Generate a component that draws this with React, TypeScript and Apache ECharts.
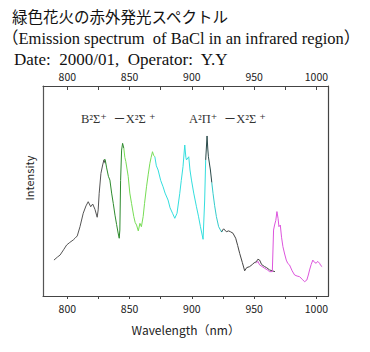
import React, { useEffect, useRef } from "react";
import * as echarts from "echarts";

const tickValues = [800, 825, 850, 875, 900, 925, 950, 975, 1000];
const labelValues = [800, 850, 900, 950, 1000];

const blackStart: number[][] = [
  [789.3, 17.1], [792, 18.5], [794.2, 19.5], [797, 22], [799.5, 24.3], [802, 25.5],
  [804.8, 26.7], [806.2, 27.5], [808, 28.6], [810.2, 33], [812.8, 39.4], [815, 42.9],
  [816.8, 44.9], [818.8, 42.5], [820.4, 43.8], [822.2, 41.3], [824, 37.5], [824.8, 41],
  [825.6, 48.9], [827, 58.4], [828.4, 62.4], [829.4, 64.8], [830.4, 63.2],
];
const darkGreen: number[][] = [
  [829.4, 64.8], [830.4, 65], [831.6, 61], [833, 57], [834.2, 55.2], [835.6, 49],
  [836.9, 44.1], [838.3, 38.5], [839.6, 34], [840.8, 30], [841.7, 27.5], [842.2, 31.4],
  [842.8, 55], [843.6, 69.5], [844.4, 72.7], [845.4, 70.3],
];
const lightGreen: number[][] = [
  [845.4, 70.3], [846.2, 66], [847, 64], [848.9, 57], [850.2, 49], [851.6, 44],
  [853.4, 37.8], [854.5, 35], [855.6, 33.8], [857, 31], [858.3, 34.6], [859.5, 33],
  [860.9, 37.8], [862, 44], [863.6, 52], [865, 58], [866.3, 63.2], [867.3, 66],
  [868.4, 68.7], [869.3, 67], [870.3, 66.3],
];
const cyanMain: number[][] = [
  [870.3, 66.3], [871.5, 62], [872.9, 60], [875, 55], [876.9, 52], [878.5, 49],
  [880.9, 45.7], [882.5, 42], [884.5, 39.4], [886.3, 37], [888.1, 39.4], [890.3, 48.9],
  [891.5, 55], [892.9, 61.6], [894.3, 71.9], [895.2, 66], [895.7, 64.8], [897.5, 66.3],
  [898.5, 60], [899.7, 55.2], [901.5, 49], [903.7, 42.5], [905.3, 38], [906.9, 33],
  [909, 27], [910.3, 45.7], [911.1, 64.8],
];
const blackPeak: number[][] = [
  [911.1, 64.8], [912.2, 76.2], [912.8, 70], [913.3, 66.3], [914.9, 60], [916, 54],
];
const cyanTail: number[][] = [
  [916, 54], [917, 48.9], [918.3, 43], [919.7, 37.8], [921.5, 33], [923.7, 30.6], [925, 31],
];
const blackTail: number[][] = [
  [923.7, 30.6], [925.5, 32], [927.7, 30.6], [929.5, 31], [931, 30.6], [933, 29.9],
  [935.2, 27.5], [936.8, 24], [938.4, 20.3], [940.5, 16], [942.4, 12], [944, 13.5],
  [946.4, 14], [948.5, 15], [950, 15.8], [951.7, 16.3], [953, 17.5], [954.4, 17.1],
  [956, 15], [958.4, 14], [960, 13.5], [962.4, 12.4], [964.5, 12], [966.7, 11.6],
];
const magenta: number[][] = [
  [951.7, 15.6], [953, 16.5], [954.4, 14.8], [956.5, 14], [958.4, 13.2], [960.5, 12.5],
  [962.4, 11.6], [964.6, 11.6], [965.6, 31.4], [966.4, 33.8], [967.4, 36], [968.3, 40.2],
  [969.2, 37], [969.9, 33], [971, 33.8], [972, 28], [973.1, 23.5], [974.5, 20],
  [975.8, 17.1], [977, 15.5], [978.4, 14.8], [980.5, 12], [982.5, 10], [984.5, 9.5],
  [986.5, 9.2], [988.5, 8], [990.5, 6.8], [992.3, 7.6], [993.5, 10], [994.5, 12.4],
  [995.8, 15], [997.1, 17.1], [998.5, 16], [999.8, 15.6], [1001, 16.5], [1002.5, 15.6],
  [1003.5, 14.5], [1004.6, 14],
];

const segments: { data: number[][]; color: string }[] = [
  { data: blackStart, color: "#555555" },
  { data: darkGreen, color: "#2e8b2e" },
  { data: lightGreen, color: "#77dd55" },
  { data: cyanMain, color: "#33dede" },
  { data: blackPeak, color: "#2a4a4a" },
  { data: cyanTail, color: "#33cccc" },
  { data: blackTail, color: "#444444" },
  { data: magenta, color: "#dd55dd" },
];

const titleLine1 = "緑色花火の赤外発光スペクトル";
const titleLine2 = "（Emission spectrum  of BaCl in an infrared region）";
const titleLine3 = "Date:  2000/01,  Operator:  Y.Y";
const bandB = "B²Σ⁺  －X²Σ ⁺";
const bandA = "A²Π⁺  －X²Σ ⁺";

const sans = "'Noto Sans CJK JP', 'Noto Sans', sans-serif";
const serif = "'Liberation Serif', 'DejaVu Serif', 'Noto Sans CJK JP', serif";

export default function App() {
  const ref = useRef<HTMLDivElement>(null);
  useEffect(() => {
    if (!ref.current) return;
    const chart = echarts.init(ref.current, undefined, { renderer: "svg" });
    const axisCommon = {
      type: "value" as const,
      min: 780.5,
      max: 1009.7,
      splitLine: { show: false },
      axisLine: { show: true, onZero: false, lineStyle: { color: "#444", width: 1 } },
    };
    const fmt = (v: number) => String(v);
    chart.setOption({
      animation: false,
      backgroundColor: "#ffffff",
      grid: { left: 43, right: 41.5, top: 86, bottom: 56 },
      xAxis: [
        {
          ...axisCommon,
          position: "bottom",
          name: "Wavelength（nm）",
          nameLocation: "middle",
          nameGap: 27,
          nameTextStyle: { fontFamily: sans, fontSize: 12, color: "#222" },
          axisTick: { show: true, inside: false, length: 3, customValues: tickValues, lineStyle: { color: "#444" } },
          axisLabel: { customValues: labelValues, formatter: fmt, fontFamily: sans, fontSize: 10.5, color: "#222", margin: 7 },
        },
        {
          ...axisCommon,
          position: "top",
          axisTick: { show: true, inside: true, length: 4, customValues: tickValues, lineStyle: { color: "#444" } },
          axisLabel: { customValues: labelValues, formatter: fmt, fontFamily: sans, fontSize: 10.5, color: "#222", margin: 4 },
        },
      ],
      yAxis: [
        {
          type: "value",
          min: 0,
          max: 100,
          position: "left",
          splitLine: { show: false },
          axisTick: { show: false },
          axisLabel: { show: false },
          axisLine: { show: true, lineStyle: { color: "#555", width: 1.2 } },
        },
        {
          type: "value",
          min: 0,
          max: 100,
          position: "right",
          splitLine: { show: false },
          axisTick: { show: false },
          axisLabel: { show: false },
          axisLine: { show: true, lineStyle: { color: "#444", width: 1.2 } },
        },
      ],
      series: segments.map((s) => ({
        type: "line",
        data: s.data,
        xAxisIndex: 0,
        yAxisIndex: 0,
        showSymbol: false,
        symbol: "none",
        lineStyle: { color: s.color, width: 1 },
        z: 3,
      })),
      graphic: [
        { type: "text", left: 12, top: 8, style: { text: titleLine1, font: `15.5px ${sans}`, fill: "#111" } },
        { type: "text", left: 2, top: 30, style: { text: titleLine2, font: `16.5px ${serif}`, fill: "#111" } },
        { type: "text", left: 14, top: 51, style: { text: titleLine3, font: `17px ${serif}`, fill: "#111" } },
        { type: "text", left: 81, top: 113, style: { text: bandB, font: `12.5px ${serif}`, fill: "#333" } },
        { type: "text", left: 189, top: 113, style: { text: bandA, font: `12.5px ${serif}`, fill: "#333" } },
        {
          type: "text",
          x: 29,
          y: 178,
          rotation: Math.PI / 2,
          style: { text: "Intensity", font: `11px ${sans}`, fill: "#222", align: "center", verticalAlign: "middle" },
        },
      ],
    });
    return () => chart.dispose();
  }, []);
  return <div ref={ref} style={{ width: 370, height: 352, position: "fixed", left: 0, top: 0 }} />;
}
